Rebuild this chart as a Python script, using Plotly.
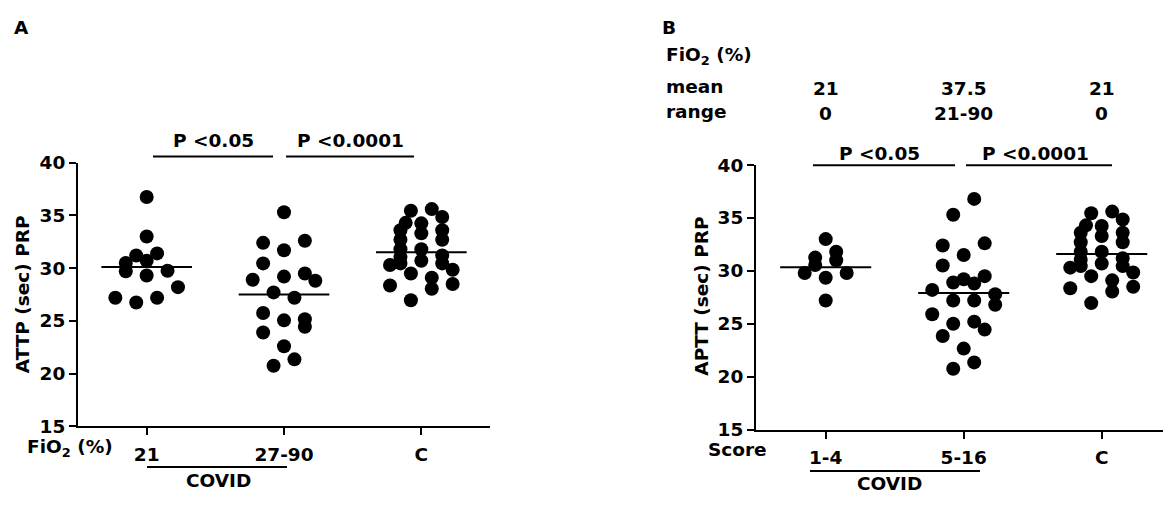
import plotly.graph_objects as go

W, H = 1163, 506

# ---------------- data ----------------
a_cats = ["21", "27-90", "C"]
b_cats = ["1-4", "5-16", "C"]

# Panel A (FiO2 groups)
a_fio21 = [36.75, 33.0, 31.2, 31.4, 30.5, 30.7, 29.7, 29.75, 29.3, 28.2, 27.2, 26.75, 27.2]
a_fio21_col = [0, 0, -1, 1, -2, 0, -2, 2, 0, 3, -3, -1, 1]
a_fio2790 = [35.3, 32.4, 32.6, 31.7, 30.45, 28.9, 29.2, 29.5, 28.8, 27.7, 27.2, 25.75,
             25.05, 25.15, 24.45, 23.9, 22.6, 21.35, 20.75]
a_fio2790_col = [0, -2, 2, 0, -2, -3, 0, 2, 3, -1, 1, -2, 0, 2, 2, -2, 0, 1, -1]

# Controls (same in both panels)
ctrl = [35.45, 35.6, 34.85, 34.25, 33.3, 33.6, 32.7, 31.8, 31.2, 30.45, 30.3, 30.45, 29.5,
        30.7, 29.85, 29.1, 28.05, 28.5, 28.35, 26.95, 34.3, 33.6, 32.7, 31.8, 31.05]
ctrl_col = [-1, 1, 2, 0, 0, 2, 2, 0, 2, 2, -3, -2, -1, 0, 3, 1, 1, 3, -3, -1, -1.5, -2, -2, -2, -2]

# Panel B (score groups)
b_s14 = [33.0, 31.25, 31.8, 31.0, 30.55, 29.8, 29.35, 29.8, 27.2]
b_s14_col = [0, -1, 1, 1, -1, -2, 0, 2, 0]
b_s516 = [36.8, 35.3, 32.4, 32.6, 31.5, 30.5, 29.5, 28.9, 29.2, 28.8, 28.2, 27.8, 27.2, 27.2,
          26.8, 25.9, 25.0, 25.2, 24.45, 23.85, 22.65, 21.35, 20.75]
b_s516_col = [1, -1, -2, 2, 0, -2, 2, -1, 0, 1, -3, 3, -1, 1, 3, -3, -1, 1, 2, -2, 0, 1, -1]

a_means = [30.1, 27.5, 31.5]
b_means = [30.35, 27.9, 31.6]

y_ticks = [15, 20, 25, 30, 35, 40]

fio2_mean = ["21", "37.5", "21"]
fio2_range = ["0", "21-90", "0"]

# ---------------- figure ----------------
FONT = dict(family="DejaVu Sans", size=18.5, color="black", weight="bold")
STEP = 0.076
MS = 14

fig = go.Figure()


def add_group(values, cols, idx, xa, ya):
    fig.add_trace(go.Scatter(
        x=[idx + c * STEP for c in cols], y=values, mode="markers",
        marker=dict(size=MS, color="black", line=dict(width=0)),
        xaxis=xa, yaxis=ya, showlegend=False, hoverinfo="y"))


def add_mean(m, idx, xa, ya):
    fig.add_trace(go.Scatter(
        x=[idx - 0.33, idx + 0.33], y=[m, m], mode="lines",
        line=dict(color="black", width=2), xaxis=xa, yaxis=ya,
        showlegend=False, hoverinfo="skip"))


add_group(a_fio21, a_fio21_col, 0, "x", "y")
add_group(a_fio2790, a_fio2790_col, 1, "x", "y")
add_group(ctrl, ctrl_col, 2, "x", "y")
for i, m in enumerate(a_means):
    add_mean(m, i, "x", "y")

add_group(b_s14, b_s14_col, 0, "x2", "y2")
add_group(b_s516, b_s516_col, 1, "x2", "y2")
add_group(ctrl, ctrl_col, 2, "x2", "y2")
for i, m in enumerate(b_means):
    add_mean(m, i, "x2", "y2")


def px(x):
    return x / W


def py(y):
    return 1 - y / H


axis_common = dict(showgrid=False, zeroline=False, showline=True, linecolor="black",
                   linewidth=2, ticks="outside", ticklen=7, tickwidth=2, tickcolor="black",
                   tickfont=FONT)

fig.update_layout(
    width=W, height=H, margin=dict(l=0, r=0, t=0, b=0),
    paper_bgcolor="white", plot_bgcolor="white", font=FONT, showlegend=False,
    xaxis=dict(domain=[px(78), px(490)], range=[-0.5, 2.5], tickvals=[0, 1, 2],
               ticktext=a_cats, anchor="y", ticklabelstandoff=3, **axis_common),
    yaxis=dict(domain=[py(433.3), py(158.3)], range=[15, 40], tickvals=y_ticks,
               anchor="x", **axis_common),
    xaxis2=dict(domain=[px(756), 1.0], range=[-0.505, 2.444], tickvals=[0, 1, 2],
                ticktext=b_cats, anchor="y2", ticklabelstandoff=3, **axis_common),
    yaxis2=dict(domain=[py(436.7), py(160.7)], range=[15, 40], tickvals=y_ticks,
                anchor="x2", **axis_common),
)

ann = []


def text(x, y, s, xanchor="center", angle=0):
    ann.append(dict(x=px(x), y=py(y), xref="paper", yref="paper", text=s, showarrow=False,
                    xanchor=xanchor, yanchor="middle", textangle=angle, font=FONT))


# Panel A
text(12, 17, "A", "left")
text(22.5, 296, "ATTP (sec) PRP", angle=-90)
text(213, 135, "P <0.05")
text(350, 135, "P <0.0001")
text(25, 456, "FiO<sub>2</sub> (%)", "left")
text(218, 490, "COVID")

# Panel B
text(660, 17, "B", "left")
text(702, 298, "APTT (sec) PRP", angle=-90)
text(879, 149, "P <0.05")
text(1035, 149, "P <0.0001")
text(706, 458, "Score", "left")
text(889, 493, "COVID")
text(664, 47, "FiO<sub>2</sub> (%)", "left")
text(664, 79, "mean", "left")
text(664, 105, "range", "left")
for i in range(3):
    cx = 825.7 + i * 138
    text(cx, 80.5, fio2_mean[i])
    text(cx, 107, fio2_range[i])

fig.update_layout(annotations=ann)

shapes = []


def hline(x0, x1, y):
    shapes.append(dict(type="line", xref="paper", yref="paper", x0=px(x0), x1=px(x1),
                       y0=py(y), y1=py(y), line=dict(color="black", width=2)))


hline(153, 273, 151.7)
hline(286, 414, 151.7)
hline(147, 287, 475.7)
hline(813, 955, 161)
hline(966, 1112, 161)
hline(810, 980, 480)

fig.update_layout(shapes=shapes)

fig.write_html("out.html")
